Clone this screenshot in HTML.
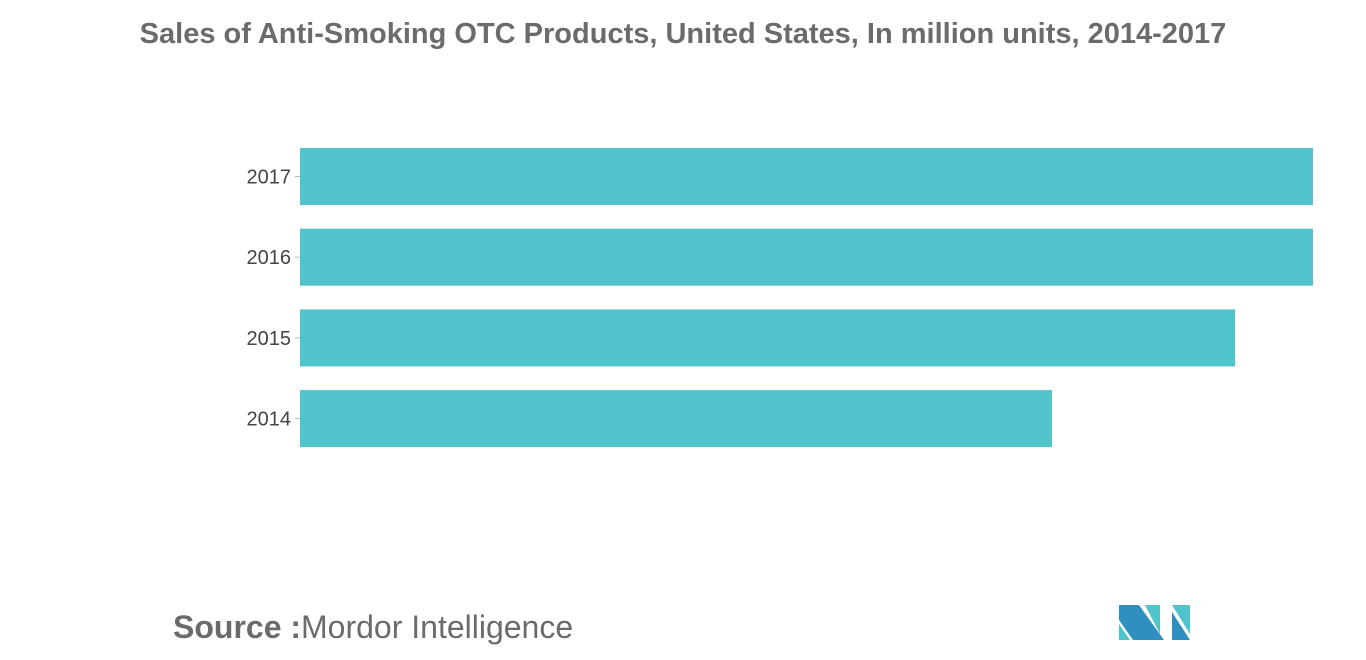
<!DOCTYPE html>
<html><head><meta charset="utf-8"><style>
body{margin:0;width:1366px;height:655px;background:#fff;overflow:hidden;font-family:"Liberation Sans",sans-serif;}
</style></head><body>
<svg width="1366" height="655">
<text x="683" y="43" text-anchor="middle" font-size="29" font-weight="bold" fill="#6b6b6b">Sales of Anti-Smoking OTC Products, United States, In million units, 2014-2017</text>
<g id="bars"></g>
<text x="173" y="638" font-size="32" font-weight="bold" fill="#6b6b6b">Source :</text>
<text x="301" y="638" font-size="32" fill="#6b6b6b">Mordor Intelligence</text>
<g>
<polygon points="1119,605 1139,605 1164,640 1133,640 1119,620" fill="#2e8fc0"/>
<polygon points="1119,624 1130,640 1119,640" fill="#4fc4cb"/>
<polygon points="1145,605 1160,605 1160,634" fill="#4fc4cb"/>
<polygon points="1172,605 1190,605 1190,634" fill="#4fc4cb"/>
<polygon points="1172,612 1190,640 1172,640" fill="#2e8fc0"/>
</g>
</svg>
<script>
const categories=["2017","2016","2015","2014"];
const values=[13.0,13.0,12.0,9.65];
const xMax=13;
const x0=300,x1=1313,yTop=148,step=80.7,bh=57;
function xs(v){return x0+(v/xMax)*(x1-x0);}
function ys(i){return yTop+i*step;}
const g=document.getElementById('bars');
const ns='http://www.w3.org/2000/svg';
categories.forEach((c,i)=>{
 const r=document.createElementNS(ns,'rect');
 r.setAttribute('x',x0);r.setAttribute('y',ys(i));
 r.setAttribute('width',xs(values[i])-x0);r.setAttribute('height',bh);
 r.setAttribute('fill','#50c4ca');
 
 
 g.appendChild(r);
 const t=document.createElementNS(ns,'line');
 t.setAttribute('x1',295);t.setAttribute('x2',300);
 t.setAttribute('y1',ys(i)+bh/2);t.setAttribute('y2',ys(i)+bh/2);
 t.setAttribute('stroke','#bbb');
 
 
 g.appendChild(t);
 const l=document.createElementNS(ns,'text');
 l.setAttribute('x',291);l.setAttribute('y',ys(i)+bh/2+7);
 l.setAttribute('text-anchor','end');l.setAttribute('font-size','20');
 l.setAttribute('fill','#444');
 l.setAttribute('font-family','"Liberation Sans Narrow","Liberation Sans",sans-serif');
 l.textContent=c;
 
 
 g.appendChild(l);
});
</script>
</body></html>
